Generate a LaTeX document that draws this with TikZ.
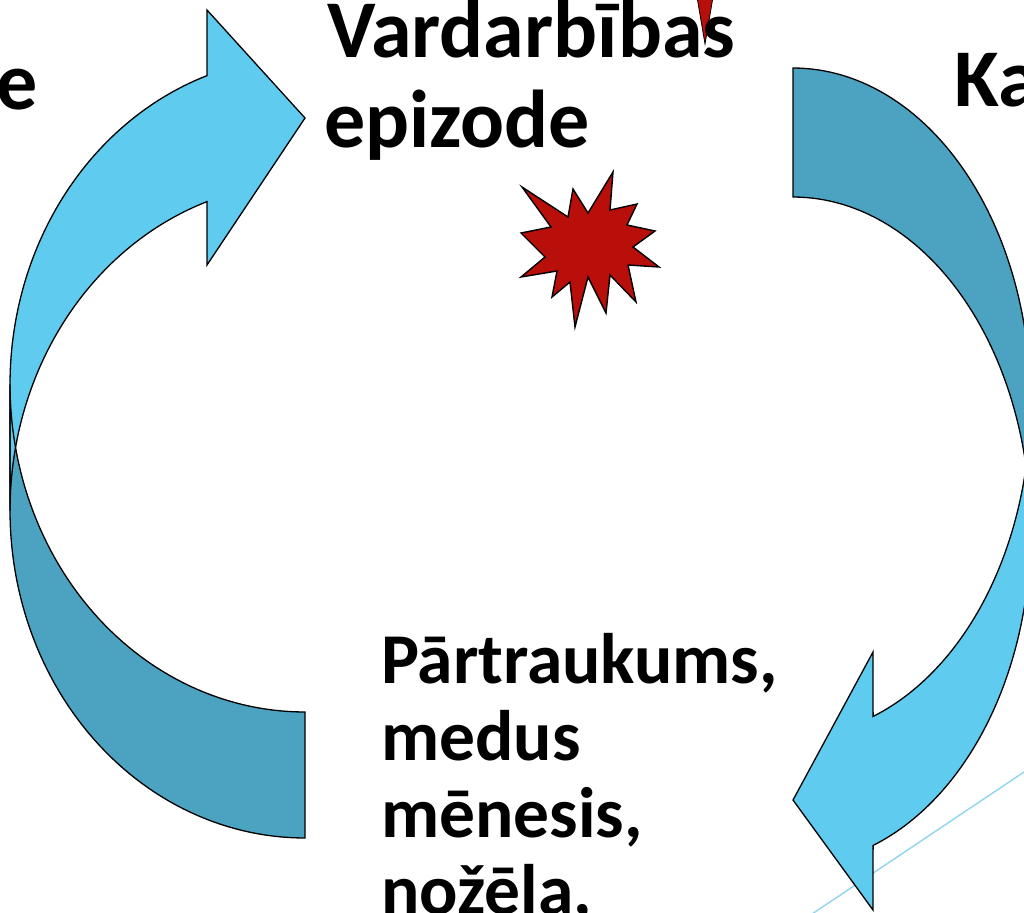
\documentclass[tikz,border=0pt]{standalone}
\usepackage{fontspec}
\setmainfont{Carlito}
\definecolor{lb}{HTML}{5FCBEE}
\definecolor{db}{HTML}{4BA3C1}
\definecolor{rd}{HTML}{B80F0A}
\definecolor{ln}{HTML}{8FD6EE}
\tikzset{
  outl/.style={draw=black, line width=1.3pt, line join=miter},
  lightpart/.style={fill=lb},
  darkpart/.style={fill=db},
  bigtxt/.style={font=\fontsize{82}{90}\selectfont\bfseries, inner sep=0pt, text=black},
  midtxt/.style={font=\fontsize{71.5}{77}\selectfont\bfseries, inner sep=0pt, text=black, anchor=base west},
  thinline/.style={draw=ln, line width=1.4pt},
}
% left curved arrow (ellipses: centre x 305, rx 295, ry 327.5; A: cy 510.5, B: cy 384.5)
\newcommand\leftlight{plot[domain=180:250.6, samples=60, variable=\t] ({305+295*cos(\t)},{384.5+327.5*sin(\t)})
  -- (207,10) -- (305,118) -- (207,265)
  -- plot[domain=250.6:180, samples=60, variable=\t] ({305+295*cos(\t)},{510.5+327.5*sin(\t)}) -- cycle}
\newcommand\leftdark{plot[domain=180:90, samples=60, variable=\t] ({305+295*cos(\t)},{510.5+327.5*sin(\t)})
  -- plot[domain=90:180, samples=60, variable=\t] ({305+295*cos(\t)},{384.5+327.5*sin(\t)}) -- cycle}
% right curved arrow (centre x 793, rx 237.6, ry 334; A: cy 402, B: cy 531)
\newcommand\rightlight{plot[domain=0:70.3, samples=60, variable=\t] ({793+237.6*cos(\t)},{402+334*sin(\t)})
  -- (873,652) -- (793,800) -- (873,910)
  -- plot[domain=70.3:0, samples=60, variable=\t] ({793+237.6*cos(\t)},{531+334*sin(\t)}) -- cycle}
\newcommand\rightdark{plot[domain=270:360, samples=60, variable=\t] ({793+237.6*cos(\t)},{402+334*sin(\t)})
  -- plot[domain=360:270, samples=60, variable=\t] ({793+237.6*cos(\t)},{531+334*sin(\t)}) -- cycle}
\begin{document}
\begin{tikzpicture}[x=1pt,y=-1pt]
\useasboundingbox (0,0) rectangle (1024,912);
\clip (0,0) rectangle (1024,912);
\fill[white] (0,0) rectangle (1024,912);
% thin decorative line
\coordinate (ln1) at (809,916);
\coordinate (ln2) at (1030,768);
\draw[thinline] (ln1) -- (ln2);
% arrows: fills, then outlines
\fill[darkpart] \leftdark;
\fill[lightpart] \leftlight;
\draw[outl] \leftdark;
\draw[outl] \leftlight;
\fill[darkpart] \rightdark;
\fill[lightpart] \rightlight;
\draw[outl] \rightdark;
\draw[outl] \rightlight;
% red spike at top
\draw[fill=rd, draw=black, line width=0.8pt] (697,-3) -- (713,-3) -- (705,44) -- cycle;
% explosion star
\draw[fill=rd, draw=black, line width=1.4pt]
  (613,172) -- (610,210) -- (637,204) -- (627,225) -- (655,231) -- (633,247)
  -- (659,267) -- (628,265) -- (636,302) -- (610,275) -- (606,313) -- (588,277)
  -- (575,327) -- (570,282) -- (552,297) -- (557,271) -- (521,277) -- (545,257)
  -- (521,233) -- (551,227) -- (522,187) -- (568,217) -- (573,189) -- (588,213) -- cycle;
% texts
\node[bigtxt, anchor=base west] (t1) at (327,58) {Vardarbības};
\node[bigtxt, anchor=base west] (t2) at (324,148) {epizode};
\node[bigtxt, anchor=base east] (le) at (38,110) {e};
\node[bigtxt, anchor=base west] (ka) at (954,107) {Ka};
\node[midtxt] (b1) at (381,683) {Pārtraukums,};
\node[midtxt] (b2) at (381,760) {medus};
\node[midtxt] (b3) at (381,837) {mēnesis,};
\node[midtxt] (b4) at (381,914) {nožēla,};
\end{tikzpicture}
\end{document}
